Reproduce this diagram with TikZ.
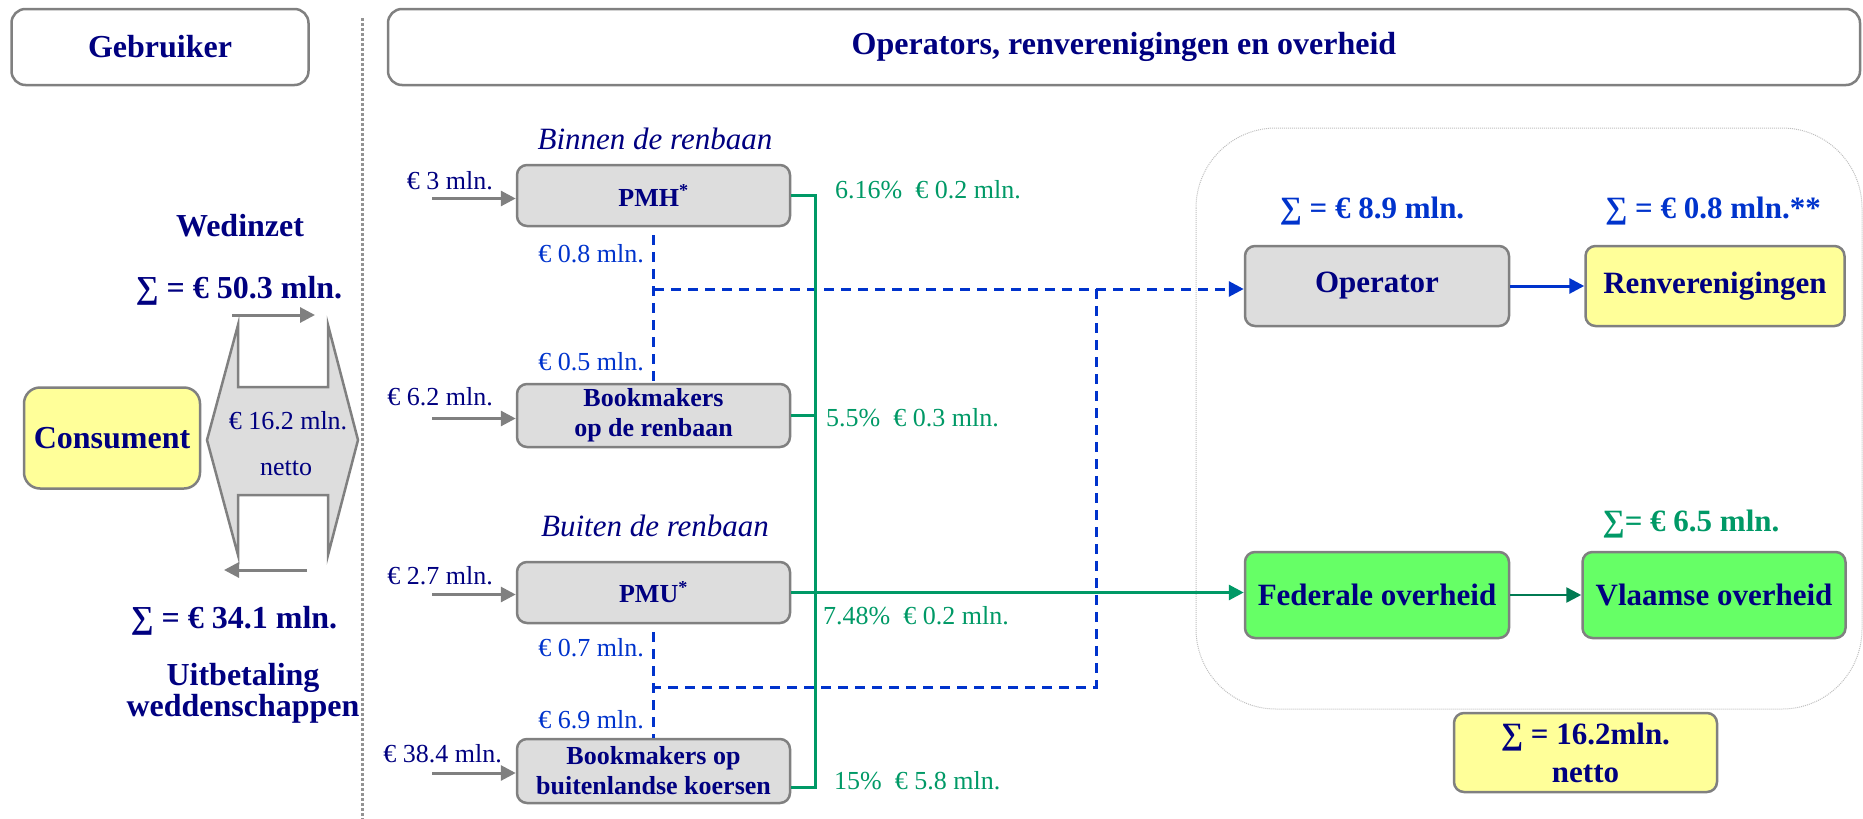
\documentclass[tikz,border=0pt]{standalone}
\usepackage{fontspec}
\setmainfont{Liberation Serif}
\usetikzlibrary{arrows.meta,calc}
\definecolor{navy}{RGB}{0,0,128}
\definecolor{lblue}{RGB}{0,51,204}
\definecolor{lgreen}{RGB}{0,153,102}
\definecolor{boxgray}{RGB}{128,128,128}
\definecolor{boxfill}{RGB}{221,221,221}
\definecolor{yell}{RGB}{255,255,153}
\definecolor{bgreen}{RGB}{102,255,102}
\begin{document}
\begin{tikzpicture}[x=1pt,y=-1pt,
  hdr/.style={draw=boxgray,line width=2.5pt,rounded corners=14pt,fill=white,text=navy,
    font=\fontsize{32}{34}\selectfont\bfseries,inner sep=0pt,minimum height=76pt},
  gbox/.style={draw=boxgray,line width=2.5pt,rounded corners=10pt,fill=boxfill,text=navy,
    font=\fontsize{26}{30}\selectfont\bfseries,align=center,inner sep=0pt,minimum width=273pt},
  rbox/.style={draw=boxgray,line width=2.5pt,rounded corners=10pt,text=navy,
    font=\fontsize{31}{34}\selectfont\bfseries,align=center,inner sep=0pt},
  bigtxt/.style={text=navy,font=\fontsize{32}{31}\selectfont\bfseries,align=center,inner sep=0pt},
  lbl/.style={text=navy,font=\fontsize{26}{28}\selectfont,inner sep=0pt},
  blbl/.style={text=lblue,font=\fontsize{26}{28}\selectfont,inner sep=0pt,anchor=east},
  glbl/.style={text=lgreen,font=\fontsize{26}{28}\selectfont,inner sep=0pt,anchor=west},
  ital/.style={text=navy,font=\fontsize{31}{34}\selectfont\itshape,inner sep=0pt},
  sumtxt/.style={font=\fontsize{31}{34}\selectfont\bfseries,inner sep=0pt},
  garrow/.style={draw=boxgray,line width=3pt,-{Triangle[length=15pt,width=15pt]}},
  gline/.style={draw=lgreen,line width=3pt},
  garr/.style={draw=lgreen,line width=3pt,-{Triangle[length=15pt,width=15pt]}},
  bdash/.style={draw=lblue,line width=3pt,dash pattern=on 10pt off 7pt},
  barr/.style={draw=lblue,line width=3pt,-{Triangle[length=15pt,width=15pt]}},
]
\useasboundingbox (0,0) rectangle (1863,819);

% headers
\node[hdr,minimum width=297pt] (gebr) at (160,47) {Gebruiker};
\node[hdr,minimum width=1472pt] (opsh) at (1124,47) {Operators, renverenigingen en overheid};

% separator
\draw[boxgray!85,line width=3pt,dash pattern=on 2.5pt off 2.5pt] (362,18) -- (362,819);

% left part
\node[bigtxt] (wed) at (240,226) {Wedinzet};
\node[bigtxt] (s50) at (239,291) {∑ = € 50.3 mln.};
\node[rbox,fill=yell,minimum width=176pt,minimum height=101pt,rounded corners=16pt,font=\fontsize{32}{34}\selectfont\bfseries] (cons) at (112,438) {Consument};
\draw[draw=boxgray,fill=boxfill,line width=2.5pt,line join=miter]
  (238,325) -- (238,387) -- (328,387) -- (328,325) -- (358,440) -- (328,555) -- (328,495)
  -- (238,495) -- (238,555) -- (207,440) -- cycle;
\node[lbl] (h1) at (288,421) {€ 16.2 mln.};
\node[lbl] (h2) at (286,468) {netto};
\coordinate (ta1) at (232,315); \coordinate (ta2) at (315,315);
\coordinate (ba1) at (307,570); \coordinate (ba2) at (224,570);
\draw[garrow] (ta1) -- (ta2);
\draw[garrow] (ba1) -- (ba2);
\node[bigtxt] (s34) at (234,621) {∑ = € 34.1 mln.};
\node[bigtxt] (uitb) at (243,693) {Uitbetaling\\weddenschappen};

% middle boxes
\node[ital] (binnen) at (655,139) {Binnen de renbaan};
\node[ital] (buiten) at (655,526) {Buiten de renbaan};
\node[gbox,minimum height=61pt] (pmh) at (653.5,195.5) {PMH\textsuperscript{*}};
\node[gbox,minimum height=63pt] (bk1) at (653.5,415.5) {Bookmakers\\op de renbaan};
\node[gbox,minimum height=61pt] (pmu) at (653.5,592.5) {PMU\textsuperscript{*}};
\node[gbox,minimum height=64pt] (bk2) at (653.5,771) {Bookmakers op\\buitenlandse koersen};

% incoming gray arrows
\node[lbl,anchor=east] (in1) at (493,181) {€ 3 mln.};
\node[lbl,anchor=east] (in2) at (493,397) {€ 6.2 mln.};
\node[lbl,anchor=east] (in3) at (493,576) {€ 2.7 mln.};
\node[lbl,anchor=east] (in4) at (502,754) {€ 38.4 mln.};
\coordinate (s1) at (432,0);
\draw[garrow] ([yshift=-3pt]pmh.west -| s1) -- ([yshift=-3pt]pmh.west);
\draw[garrow] ([yshift=-3pt]bk1.west -| s1) -- ([yshift=-3pt]bk1.west);
\draw[garrow] ([yshift=-2pt]pmu.west -| s1) -- ([yshift=-2pt]pmu.west);
\draw[garrow] ([yshift=-2pt]bk2.west -| s1) -- ([yshift=-2pt]bk2.west);

% blue dashed flows
\node[blbl] (b1) at (644,254) {€ 0.8 mln.};
\node[blbl] (b2) at (644,362) {€ 0.5 mln.};
\node[blbl] (b3) at (644,648) {€ 0.7 mln.};
\node[blbl] (b4) at (644,720) {€ 6.9 mln.};

% right container
\draw[gray!50,line width=1pt,densely dotted,rounded corners=80pt] (1196,128) rectangle (1862,709);

\node[rbox,fill=boxfill,minimum width=264pt,minimum height=80pt] (op) at (1377,286) {Operator};
\node[rbox,fill=yell,minimum width=259pt,minimum height=80pt] (ren) at (1715,286) {Renverenigingen};
\node[rbox,fill=bgreen,minimum width=264pt,minimum height=86pt] (fed) at (1377,595) {Federale overheid};
\node[rbox,fill=bgreen,minimum width=263pt,minimum height=86pt] (vla) at (1714,595) {Vlaamse overheid};
\node[rbox,fill=yell,minimum width=263pt,minimum height=79pt,font=\fontsize{31}{38}\selectfont\bfseries] (tot) at (1585.5,752.5) {∑ = 16.2mln.\\netto};

\node[sumtxt,text=lblue] (s89) at (1372,211) {∑ = € 8.9 mln.};
\node[sumtxt,text=lblue] (s08) at (1713,211) {∑ = € 0.8 mln.**};
\node[sumtxt,text=lgreen] (s65) at (1691,524) {∑= € 6.5 mln.};

\coordinate (bl1) at (654,289);
\coordinate (bl2) at (654,687);
\coordinate (br) at (1096,687);
\draw[bdash] ($(pmh.south)+(0,8)$) -- (bk1.north);
\draw[bdash] ($(pmu.south)+(0,8)$) -- (bk2.north);
\draw[bdash,-{Triangle[length=15pt,width=15pt]}] (bl1) -- (bl1 -| op.west);
\draw[bdash] (bl1 -| br) -- (br) -- (bl2);

% green flows
\coordinate (busx) at (815,0);
\coordinate (bk2e) at ($(bk2.east)+(0,16)$);
\draw[gline] (pmh.east) -- (pmh.east -| busx) -- (bk2e -| busx) -- (bk2e);
\draw[gline] (bk1.east) -- (bk1.east -| busx);
\draw[garr] (pmu.east) -- (pmu.east -| fed.west);
\node[glbl] (g1) at (835,190) {6.16\%\ \ € 0.2 mln.};
\node[glbl] (g2) at (826,418) {5.5\%\ \ € 0.3 mln.};
\node[glbl] (g3) at (823,616) {7.48\%\ \ € 0.2 mln.};
\node[glbl] (g4) at (834,781) {15\%\ \ € 5.8 mln.};

\draw[barr] (op.east) -- (ren.west);
\draw[garr,line width=2.5pt,draw=lgreen!80!black] (fed.east) -- (vla.west);
\end{tikzpicture}
\end{document}
